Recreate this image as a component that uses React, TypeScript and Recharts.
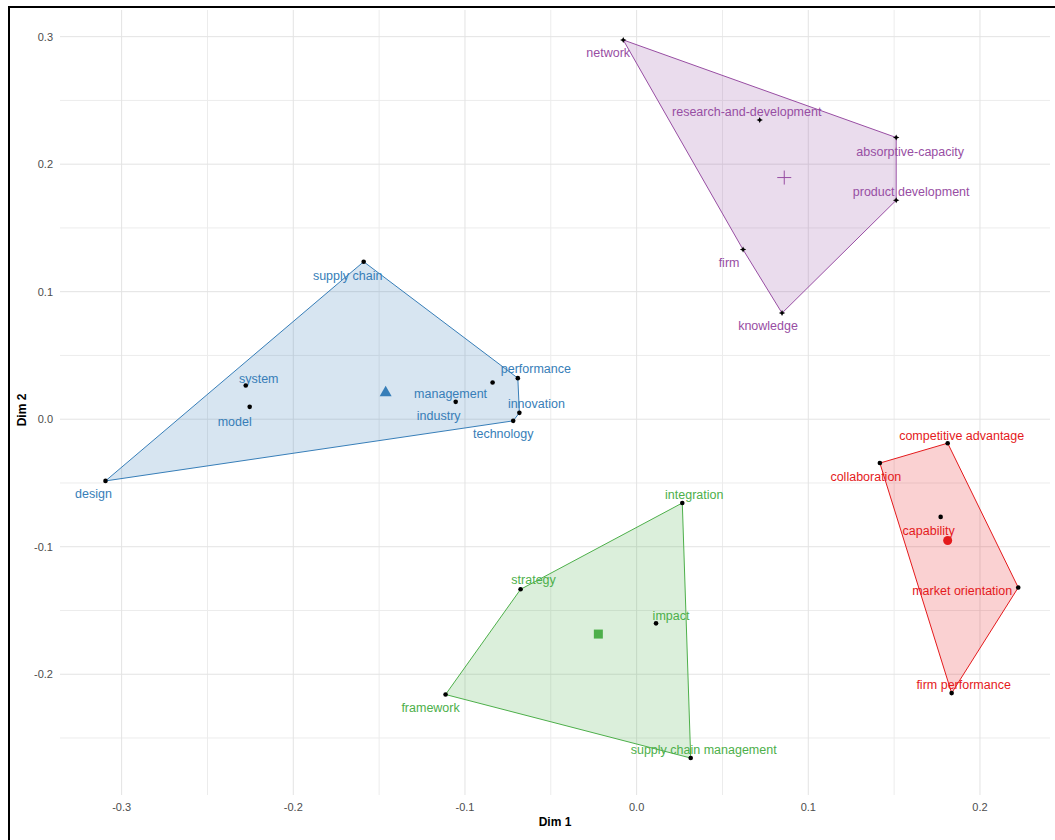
import React from 'react';
import { ScatterChart, Scatter, XAxis, YAxis, ReferenceLine, Label } from 'recharts';

const FONT = '"Liberation Sans", Arial, Helvetica, sans-serif';

// axis ticks and grid
const xTicks = [-0.3, -0.2, -0.1, 0, 0.1, 0.2];
const yTicks = [-0.2, -0.1, 0, 0.1, 0.2, 0.3];
const xMinor = [-0.25, -0.15, -0.05, 0.05, 0.15];
const yMinor = [-0.25, -0.15, -0.05, 0.05, 0.15, 0.25];

// cluster 1 (blue)
const blueTerms = ['supply chain', 'system', 'model', 'management', 'industry', 'performance', 'innovation', 'technology', 'design'];
const blueDim1 = [-0.159, -0.2277, -0.2254, -0.0839, -0.1054, -0.0692, -0.0683, -0.0719, -0.3094];
const blueDim2 = [0.1235, 0.0264, 0.0097, 0.0288, 0.0136, 0.0322, 0.005, -0.0013, -0.0484];
const blueHull = ['supply chain', 'performance', 'innovation', 'technology', 'design', 'supply chain'];
const blueCenter = [-0.1462, 0.0215];

// cluster 2 (green)
const greenTerms = ['integration', 'strategy', 'impact', 'framework', 'supply chain management'];
const greenDim1 = [0.0266, -0.0676, 0.0113, -0.1113, 0.0315];
const greenDim2 = [-0.0657, -0.1334, -0.1601, -0.2159, -0.2657];
const greenHull = ['integration', 'supply chain management', 'framework', 'strategy', 'integration'];
const greenCenter = [-0.0223, -0.1685];

// cluster 3 (purple)
const purpleTerms = ['network', 'research-and-development', 'absorptive-capacity', 'product development', 'firm', 'knowledge'];
const purpleDim1 = [-0.0078, 0.0717, 0.1512, 0.1512, 0.062, 0.0847];
const purpleDim2 = [0.2974, 0.2346, 0.2209, 0.1717, 0.133, 0.0832];
const purpleHull = ['network', 'absorptive-capacity', 'product development', 'knowledge', 'firm', 'network'];
const purpleCenter = [0.086, 0.1895];

// cluster 4 (red)
const redTerms = ['competitive advantage', 'collaboration', 'capability', 'market orientation', 'firm performance'];
const redDim1 = [0.1812, 0.1417, 0.1771, 0.2223, 0.1835];
const redDim2 = [-0.0188, -0.0344, -0.0766, -0.132, -0.2148];
const redHull = ['competitive advantage', 'market orientation', 'firm performance', 'collaboration', 'competitive advantage'];
const redCenter = [0.1812, -0.0951];

// label nudges in px (repelled label placement)
const nudge: Record<string, [number, number]> = {
  'supply chain': [-16, 14],
  system: [13, -7],
  model: [-15, 15],
  management: [-42, 11],
  industry: [-17, 14],
  performance: [18, -10],
  innovation: [17, -9],
  technology: [-10, 13],
  design: [-12, 13],
  network: [-15, 13],
  'research-and-development': [-13, -8],
  'absorptive-capacity': [14, 14],
  'product development': [15, -9],
  firm: [-14, 13],
  knowledge: [-14, 13],
  'competitive advantage': [14, -8],
  collaboration: [-14, 14],
  capability: [-12, 14],
  'market orientation': [-56, 3],
  'firm performance': [12, -8],
  integration: [12, -8],
  strategy: [13, -10],
  impact: [15, -8],
  framework: [-15, 13],
  'supply chain management': [13, -8],
};

type Pt = { x: number; y: number; term: string };

const toPoints = (terms: string[], d1: number[], d2: number[]): Pt[] =>
  terms.map((t, i) => ({ x: d1[i], y: d2[i], term: t }));

const clusters = [
  { id: 'blue', color: '#377eb8', pts: toPoints(blueTerms, blueDim1, blueDim2), hull: blueHull, center: blueCenter, marker: 'dot', centerShape: 'triangle' },
  { id: 'green', color: '#4daf4a', pts: toPoints(greenTerms, greenDim1, greenDim2), hull: greenHull, center: greenCenter, marker: 'dot', centerShape: 'square' },
  { id: 'purple', color: '#984ea3', pts: toPoints(purpleTerms, purpleDim1, purpleDim2), hull: purpleHull, center: purpleCenter, marker: 'star', centerShape: 'plus' },
  { id: 'red', color: '#e41a1c', pts: toPoints(redTerms, redDim1, redDim2), hull: redHull, center: redCenter, marker: 'dot', centerShape: 'circle' },
];

const Empty = () => <g />;

const makeLabel = (color: string) => (props: any) => {
  const { cx, cy, payload } = props;
  const [dx, dy] = nudge[payload.term] || [0, 0];
  return (
    <text x={cx + dx} y={cy + dy} dy="0.35em" textAnchor="middle" fill={color} fontSize={12.5} fontFamily={FONT}>
      {payload.term}
    </text>
  );
};

const makeMarker = (kind: string) => (props: any) => {
  const { cx, cy } = props;
  if (kind === 'star') {
    return <path d={`M${cx},${cy - 3}L${cx + 1},${cy - 1}L${cx + 3.2},${cy}L${cx + 1},${cy + 1}L${cx},${cy + 3}L${cx - 1},${cy + 1}L${cx - 3.2},${cy}L${cx - 1},${cy - 1}Z`} fill="#000" />;
  }
  return <circle cx={cx} cy={cy} r={2.3} fill="#000" />;
};

const makeCenter = (kind: string, color: string) => (props: any) => {
  const { cx, cy } = props;
  switch (kind) {
    case 'triangle':
      return <path d={`M${cx},${cy - 6}L${cx + 6},${cy + 4.5}L${cx - 6},${cy + 4.5}Z`} fill={color} />;
    case 'square':
      return <rect x={cx - 4.5} y={cy - 4.5} width={9} height={9} fill={color} />;
    case 'plus':
      return (
        <g stroke={color} strokeWidth={1}>
          <line x1={cx - 7} y1={cy} x2={cx + 7} y2={cy} />
          <line x1={cx} y1={cy - 7} x2={cx} y2={cy + 7} />
        </g>
      );
    default:
      return <circle cx={cx} cy={cy} r={4.5} fill={color} />;
  }
};

const XTitle = (props: any) => {
  const vb = props.viewBox;
  return (
    <text x={vb.x + vb.width / 2} y={vb.y + 31} textAnchor="middle" fontSize={12} fontWeight="bold" fontFamily={FONT} fill="#000">
      Dim 1
    </text>
  );
};

const YTitle = () => (
  <text x={26} y={410} transform="rotate(-90 26 410)" textAnchor="middle" fontSize={12} fontWeight="bold" fontFamily={FONT} fill="#000">
    Dim 2
  </text>
);

export default function App() {
  return (
    <>
      <div style={{ position: 'fixed', left: 0, top: 0, width: 1055, height: 840, background: '#fff' }}>
        <ScatterChart width={1055} height={840} margin={{ top: 10, right: 5, bottom: 0, left: 0 }}>
          <XAxis
            type="number"
            dataKey="x"
            domain={[-0.3359, 0.2408]}
            allowDataOverflow
            ticks={xTicks}
            tickFormatter={(v: number) => v.toFixed(1)}
            tick={{ fill: '#4d4d4d', fontSize: 11, fontFamily: FONT }}
            tickLine={false}
            axisLine={false}
            tickSize={0}
            tickMargin={8}
            height={45}
          >
            <Label content={XTitle} />
          </XAxis>
          <YAxis
            type="number"
            dataKey="y"
            domain={[-0.2947, 0.3209]}
            allowDataOverflow
            ticks={yTicks}
            tickFormatter={(v: number) => v.toFixed(1)}
            tick={{ fill: '#4d4d4d', fontSize: 11, fontFamily: FONT }}
            tickLine={false}
            axisLine={false}
            tickSize={0}
            tickMargin={7}
            width={60}
          >
            <Label content={YTitle} />
          </YAxis>

          {xMinor.map((v) => (
            <ReferenceLine key={`xm${v}`} x={v} stroke="#ececec" strokeWidth={1} />
          ))}
          {yMinor.map((v) => (
            <ReferenceLine key={`ym${v}`} y={v} stroke="#ececec" strokeWidth={1} />
          ))}
          {xTicks.map((v) => (
            <ReferenceLine key={`x${v}`} x={v} stroke="#e3e3e3" strokeWidth={1} />
          ))}
          {yTicks.map((v) => (
            <ReferenceLine key={`y${v}`} y={v} stroke="#e3e3e3" strokeWidth={1} />
          ))}

          {clusters.map((c) => (
            <Scatter key={`lab-${c.id}`} data={c.pts} shape={makeLabel(c.color)} isAnimationActive={false} />
          ))}
          {clusters.map((c) => (
            <Scatter
              key={`hull-${c.id}`}
              data={c.hull.map((t) => c.pts.find((p) => p.term === t) as Pt)}
              shape={Empty}
              line={{ stroke: c.color, strokeWidth: 1, fill: c.color, fillOpacity: 0.2 }}
              lineJointType="linear"
              lineType="joint"
              isAnimationActive={false}
            />
          ))}
          {clusters.map((c) => (
            <Scatter key={`pt-${c.id}`} data={c.pts} shape={makeMarker(c.marker)} isAnimationActive={false} />
          ))}
          {clusters.map((c) => (
            <Scatter
              key={`ctr-${c.id}`}
              data={[{ x: c.center[0], y: c.center[1] }]}
              shape={makeCenter(c.centerShape, c.color)}
              isAnimationActive={false}
            />
          ))}
        </ScatterChart>
      </div>
      <div
        style={{
          position: 'fixed',
          left: 8,
          top: 6,
          width: 1100,
          height: 900,
          border: '2px solid #000',
          pointerEvents: 'none',
        }}
      />
    </>
  );
}
